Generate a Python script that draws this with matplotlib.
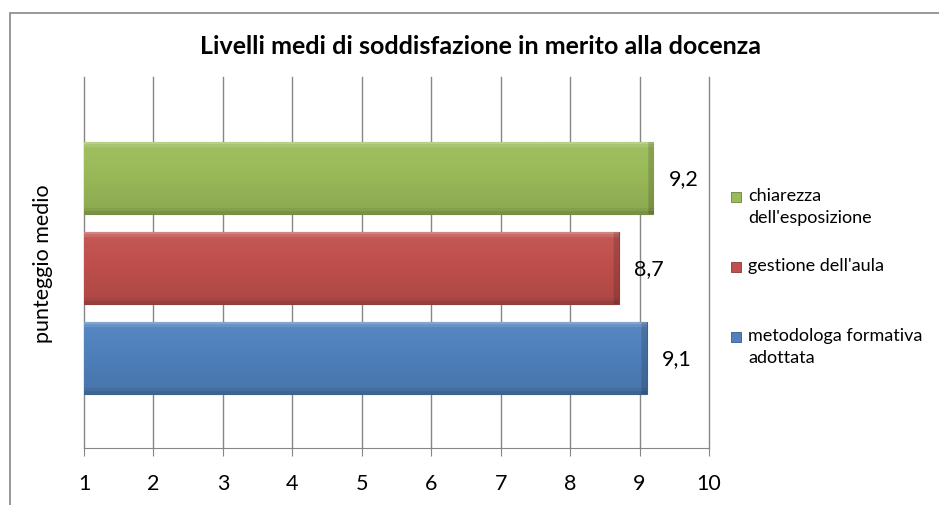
import numpy as np
import matplotlib
matplotlib.use("Agg")
import matplotlib.pyplot as plt
from matplotlib.patches import Rectangle
from matplotlib.colors import to_rgb

plt.rcParams['font.family'] = ['Lato', 'DejaVu Sans']

# data (bottom to top)
series = ["metodologa formativa\nadottata", "gestione dell'aula", "chiarezza\ndell'esposizione"]
values = [9.1, 8.7, 9.2]
value_labels = ["9,1", "8,7", "9,2"]
colors = ["#4F81BD", "#C0504D", "#9BBB59"]
category = "punteggio medio"
xticks = list(range(1, 11))
title = "Livelli medi di soddisfazione in merito alla docenza"

W, H = 939, 506
fig = plt.figure(figsize=(W / 100, H / 100), dpi=100)
ax = fig.add_axes([84 / W, 1 - 449 / H, (709 - 84) / W, (449 - 78) / H])

positions = np.arange(len(values)) - 1
bar_h = 0.8


def shade(rgb, f):
    rgb = np.array(rgb)
    if f >= 1:
        return rgb + (1 - rgb) * (f - 1)
    return rgb * f


for pos, val, col, lab in zip(positions, values, colors, value_labels):
    base = to_rgb(col)
    bar = ax.barh(pos, val - 1, left=1, height=bar_h, color=col,
                  edgecolor=shade(base, 0.75), linewidth=0.8, zorder=3)[0]
    # bevelled gradient look
    rows, cols = 72, 400
    t = np.linspace(0, 1, rows)
    prof = 1.06 - 0.16 * t
    prof[:3] = 1.3
    prof[3:6] = 1.15
    prof[-3:] = 0.78
    prof[-6:-3] = 0.86
    img = np.zeros((rows, cols, 3))
    for i in range(rows):
        img[i, :, :] = shade(base, prof[i])
    img[:, -4:, :] = img[:, -4:, :] * 0.85
    im = ax.imshow(np.clip(img, 0, 1), extent=[1, val, pos - bar_h / 2, pos + bar_h / 2],
                   aspect='auto', origin='upper', zorder=3.5, interpolation='bilinear')
    im.set_clip_path(bar)
    ax.annotate(lab, xy=(val, pos), xytext=(11, 0), textcoords='offset points',
                va='center', ha='left', fontsize=15.5, zorder=4)

ax.set_xlim(1, 10)
ax.set_ylim(-2.0, 2.12)
ax.set_xticks(xticks)
ax.set_xticklabels([str(x) for x in xticks], fontsize=15.5)
ax.set_yticks([])
ax.grid(axis='x', color='#868686', linewidth=1)
for gl in ax.get_xgridlines():
    gl.set_clip_on(False)
ax.set_axisbelow(True)
for s in ['top', 'right', 'left']:
    ax.spines[s].set_visible(False)
ax.spines['bottom'].set_color('#868686')
ax.tick_params(axis='x', direction='out', length=6, color='#868686', pad=12)
ax.set_ylabel(category, fontsize=15.5, labelpad=22)

fig.text(480 / W, 1 - 46 / H, title, ha='center', va='center',
         fontsize=18, fontweight='bold')

# legend (top to bottom)
leg_y = [198, 268, 338]
for yy, lab, col in zip(leg_y, series[::-1], colors[::-1]):
    fig.patches.append(Rectangle((731 / W, 1 - (yy + 5) / H), 10 / W, 10 / H,
                                 transform=fig.transFigure, facecolor=col,
                                 edgecolor=shade(to_rgb(col), 0.7), linewidth=0.6))
    fig.text(748 / W, 1 - (yy - 10) / H, lab, ha='left', va='top',
             fontsize=13, linespacing=1.45)

# chart frame
fig.patches.append(Rectangle((10 / W, -0.1), 1.2, 1.1 - 14 / H,
                             transform=fig.transFigure, fill=False,
                             edgecolor='#868686', linewidth=1.2))

fig.savefig("out.png", dpi=100)
